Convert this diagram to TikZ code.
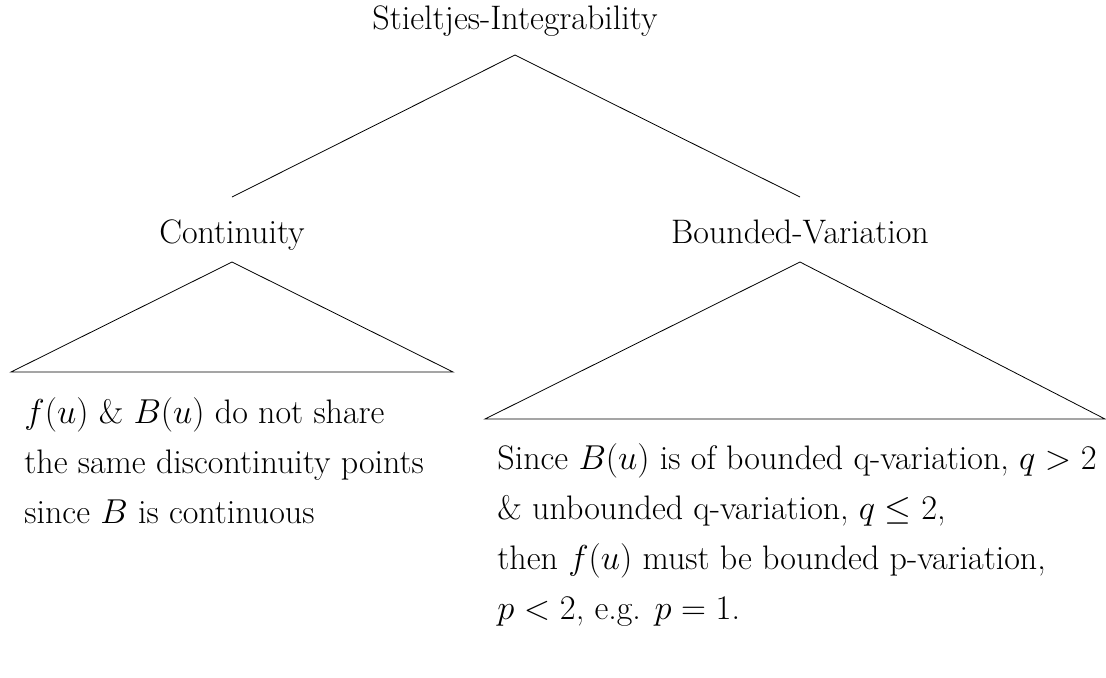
\documentclass[tikz,border=0pt]{standalone}
\begin{document}
\begin{tikzpicture}[x=0.5pt,y=-0.5pt,
  word/.style={anchor=base,inner sep=0pt,font=\fontsize{17}{19}\selectfont},
  line/.style={anchor=base west,inner sep=0pt,font=\fontsize{17}{19}\selectfont}]
\useasboundingbox (0,0) rectangle (1106,677);

\node[word] (1) at (515,29) {Stieltjes-Integrability};
\node[word] (2) at (232,243) {Continuity};
\node[word] (3) at (800,243) {Bounded-Variation};

\node[line] (4) at (24,423) {$f(u)$ \& $B(u)$ do not share};
\node[line] (5) at (24,473) {the same discontinuity points};
\node[line] (6) at (24,523) {since $B$ is continuous};

\node[line] (7) at (497,469) {Since $B(u)$ is of bounded q-variation, $q>2$};
\node[line] (8) at (497,519) {\& unbounded q-variation, $q\leq 2$,};
\node[line] (9) at (497,569) {then $f(u)$ must be bounded p-variation,};
\node[line] (10) at (497,619) {$p<2$, e.g. $p=1$.};

\coordinate (a) at (11,372);
\coordinate (b) at (453,372);
\coordinate (c) at (485,419);
\coordinate (d) at (1105,419);

\draw ([yshift=-13pt]1.base)--([yshift=23pt]2.base);
\draw ([yshift=-13pt]1.base)--([yshift=23pt]3.base);
\draw ([yshift=-9.5pt]2.base)--(a)--(b)--cycle;
\draw ([yshift=-9.5pt]3.base)--(c)--(d)--cycle;
\end{tikzpicture}
\end{document}
